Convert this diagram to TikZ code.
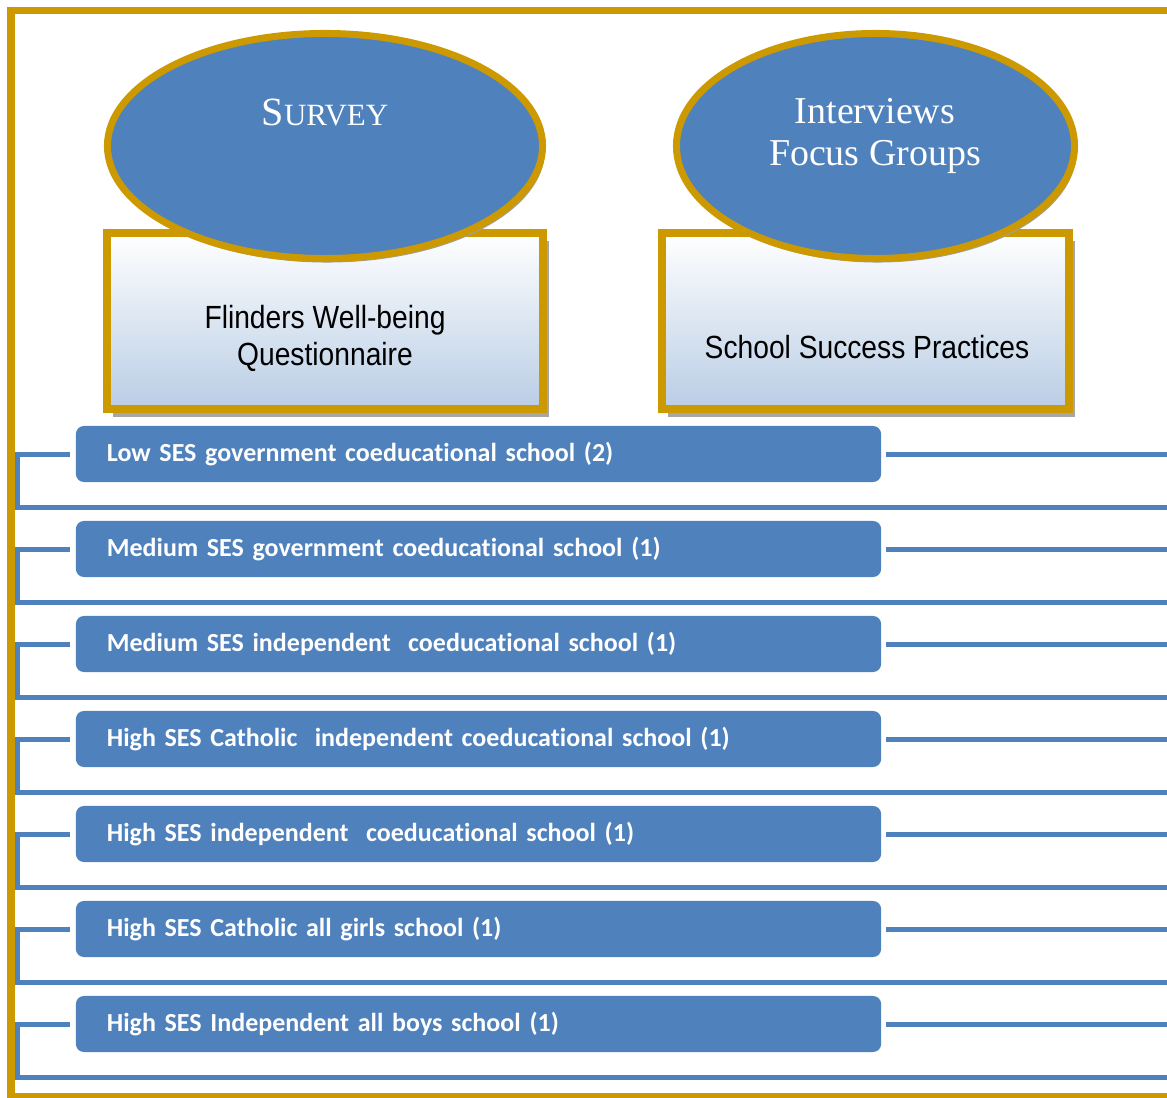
\documentclass[tikz,border=0pt]{standalone}
\usepackage{fontspec}
\usetikzlibrary{shapes.geometric,shadows,calc}

\newfontfamily\barfont[Ligatures=NoCommon]{Carlito}
\newfontfamily\boxfont[FakeStretch=0.88]{Liberation Sans}
\newfontfamily\ovalfont{Liberation Serif}

\definecolor{gold}{HTML}{CC9900}
\definecolor{barblue}{HTML}{4F81BD}
\definecolor{boxblue}{HTML}{B9CDE5}

\tikzset{
  oval/.style={ellipse, draw=gold, line width=0.175cm, fill=barblue,
    minimum height=5.625cm, inner sep=0pt,
    drop shadow={shadow xshift=0.06cm, shadow yshift=-0.1cm, fill=gray!75, opacity=1}},
  ovaltext/.style={text=white, font=\ovalfont\fontsize{27}{30.5}\selectfont, align=center},
  box/.style={rectangle, draw=gold, line width=0.2cm, top color=white, bottom color=boxblue,
    minimum height=4.4cm, inner sep=0pt,
    drop shadow={shadow xshift=0.16cm, shadow yshift=-0.2cm, fill=gray!70, opacity=1}},
  boxtext/.style={text=black, font=\boxfont\fontsize{22.8}{26.3}\selectfont, align=center},
  bar/.style={rectangle, rounded corners=0.2cm, fill=barblue, text=white,
    font=\barfont\bfseries\fontsize{18.5}{21}\selectfont,
    minimum width=20.125cm, minimum height=1.4cm, text width=18.575cm,
    inner xsep=0.775cm, align=left},
  link/.style={draw=barblue, line width=0.125cm},
  frame/.style={draw=gold, line width=0.175cm}
}

\begin{document}
\begin{tikzpicture}[x=0.025cm, y=-0.025cm]
    \useasboundingbox (0,0) rectangle (1167,1098);
    \clip (0,0) rectangle (1167,1098);
    % Boxes below the ovals
    \node[box, minimum width=10.9cm] (fwq) at (325,321) {};
    \node[box, minimum width=10.175cm] (ssp) at (865.5,321) {};
    \node[boxtext] (fwqtext) at (325,338) {Flinders Well-being\\Questionnaire};
    \node[boxtext] (ssptext) at (867,347) {School Success Practices};
    % Ovals
    \node[oval, minimum width=10.875cm] (survey) at (325,146) {};
    \node[oval, minimum width=9.95cm] (interviews) at (875.5,146) {};
    \node[ovaltext] (surveytext) at (325,112)
        {{\fontsize{28.5}{30}\selectfont S}{\fontsize{22}{26}\selectfont URVEY}};
    \node[ovaltext] (intertext) at (875,136) {Interviews\\Focus Groups};
    % School bars with their brackets
    \foreach \lbl [count=\i] in {Low SES government coeducational school (2),
        Medium SES government coeducational school (1),
        Medium SES independent\ \ coeducational school (1),
        High SES Catholic\ \ independent coeducational school (1),
        High SES independent\ \ coeducational school (1),
        High SES Catholic all girls school (1),
        High SES Independent all boys school (1)}{
      \pgfmathsetmacro{\ypos}{454+95*(\i-1)}
      \node[bar] (bar\i) at (478.5,\ypos) {\lbl};
      \coordinate (lend\i) at (17,\ypos);
      \coordinate (lfoot\i) at (17,\ypos+53);
      \coordinate (rfoot\i) at (1175,\ypos+53);
      \coordinate (rend\i) at (1175,\ypos);
      \draw[link] ([xshift=-0.15cm]bar\i.west) -- (lend\i) -- (lfoot\i) -- (rfoot\i);
      \draw[link] ([xshift=0.125cm]bar\i.east) -- (rend\i);
    }
    % Frame
    \draw[frame] (1175,10.5) -- (11,10.5) -- (11,1096) -- (1175,1096);
\end{tikzpicture}
\end{document}
